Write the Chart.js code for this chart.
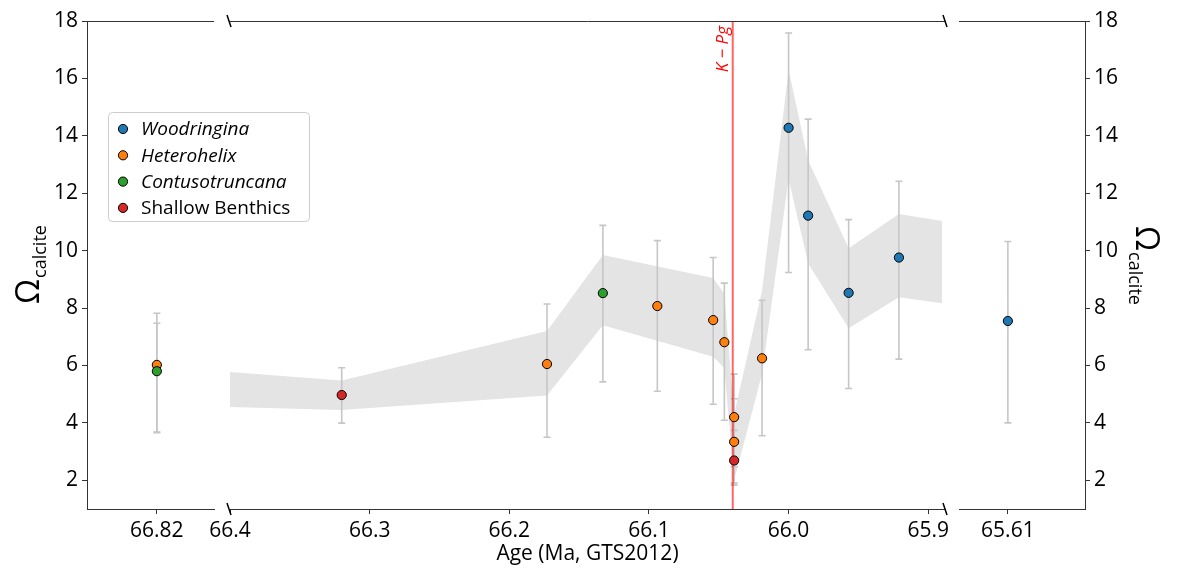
<!DOCTYPE html>
<html>
<head>
<meta charset="utf-8">
<script src="https://cdn.jsdelivr.net/npm/chart.js@4.4.1/dist/chart.umd.min.js"></script>
<style>
  html, body { margin: 0; padding: 0; background: #fff; }
</style>
</head>
<body>
<canvas id="chart" width="1177" height="571"></canvas>
<script>
// genera shown in the legend
const genusNames  = ['Woodringina', 'Heterohelix', 'Contusotruncana', 'Shallow Benthics'];
const genusColors = ['#1f77b4', '#ff7f0e', '#2ca02c', '#d62728'];

// age (Ma), omega calcite, error bar low / high
const woodAge   = [66.000, 65.986, 65.957, 65.921, 65.61];
const woodOmega = [14.28, 11.22, 8.53, 9.76, 7.55];
const woodLow   = [9.24, 6.55, 5.20, 6.22, 4.00];
const woodHigh  = [17.58, 14.58, 11.08, 12.42, 10.32];

const hetAge   = [66.82, 66.173, 66.094, 66.054, 66.046, 66.039, 66.039, 66.019];
const hetOmega = [6.02, 6.05, 8.07, 7.58, 6.81, 4.20, 3.34, 6.25];
const hetLow   = [3.68, 3.50, 5.10, 4.65, 4.09, 2.47, 1.83, 3.55];
const hetHigh  = [7.82, 8.14, 10.35, 9.76, 8.87, 5.70, 4.84, 8.27];

const contAge   = [66.82, 66.133];
const contOmega = [5.80, 8.52];
const contLow   = [3.66, 5.43];
const contHigh  = [7.47, 10.88];

const benthAge   = [66.32, 66.039];
const benthOmega = [4.97, 2.69];
const benthLow   = [3.99, 1.90];
const benthHigh  = [5.92, 3.74];

// shaded envelope (middle panel)
const bandAge   = [66.40, 66.32, 66.173, 66.133, 66.054, 66.046, 66.039, 66.019, 66.000, 65.986, 65.957, 65.921, 65.89];
const bandUpper = [5.77, 5.48, 7.20, 9.85, 9.05, 8.50, 4.30, 8.60, 16.30, 13.15, 10.08, 11.28, 11.03];
const bandLower = [4.55, 4.45, 4.95, 7.40, 6.30, 5.90, 2.00, 5.70, 12.50, 9.55, 7.30, 8.38, 8.17];

const kpgAge = 66.04;

// axis ticks
const omegaTicks = [2, 4, 6, 8, 10, 12, 14, 16, 18];
const leftTicks  = [66.82];
const midTicks   = [66.4, 66.3, 66.2, 66.1, 66.0, 65.9];
const rightTicks = [65.61];

// pixel extents of the three broken-axis panels
const panelPx = { xL: [87, 214], xM: [230, 945], xR: [959, 1085] };

const FONT = '"Open Sans", "Noto Sans", sans-serif';
const AXIS = '#333';

function panelOf(age) {
  if (age > 66.5) return 'xL';
  if (age < 65.8) return 'xR';
  return 'xM';
}

const groups = [
  [woodAge, woodOmega, woodLow, woodHigh],
  [hetAge, hetOmega, hetLow, hetHigh],
  [contAge, contOmega, contLow, contHigh],
  [benthAge, benthOmega, benthLow, benthHigh]
];

const datasets = [
  {
    type: 'line', xAxisID: 'xM', yAxisID: 'y', order: 10,
    data: bandAge.map((a, i) => ({x: a, y: bandUpper[i]})),
    borderColor: 'transparent', borderWidth: 0, pointRadius: 0, fill: false
  },
  {
    type: 'line', xAxisID: 'xM', yAxisID: 'y', order: 10,
    data: bandAge.map((a, i) => ({x: a, y: bandLower[i]})),
    borderColor: 'transparent', borderWidth: 0, pointRadius: 0,
    fill: '-1', backgroundColor: '#e4e4e4'
  }
];

groups.forEach(([age, om, lo, hi], g) => {
  ['xL', 'xM', 'xR'].forEach(axis => {
    const pts = [];
    age.forEach((a, i) => {
      if (panelOf(a) === axis) pts.push({x: a, y: om[i], lo: lo[i], hi: hi[i]});
    });
    if (!pts.length) return;
    datasets.push({
      label: genusNames[g], xAxisID: axis, yAxisID: 'y', order: 4 - g,
      data: pts, backgroundColor: genusColors[g], borderColor: '#000',
      borderWidth: 1, pointRadius: 4.6
    });
  });
});

function ageAxis(min, max, ticks, digits, extra) {
  return Object.assign({
    type: 'linear', position: 'bottom', stack: 'age', reverse: true,
    min: min, max: max,
    afterBuildTicks: s => { s.ticks = ticks.map(v => ({value: v})); },
    afterFit: s => { s.height = 62; },
    ticks: {
      color: '#000', font: {family: FONT, size: 21}, padding: 4,
      autoSkip: false, maxRotation: 0,
      callback: v => v.toFixed(digits)
    },
    grid: {drawOnChartArea: false, tickLength: 5, color: AXIS},
    border: {color: AXIS, width: 1}
  }, extra || {});
}

function omegaAxis(pos, width) {
  return {
    type: 'linear', position: pos, min: 1, max: 18,
    afterBuildTicks: s => { s.ticks = omegaTicks.map(v => ({value: v})); },
    afterFit: s => { s.width = width; },
    ticks: {color: '#000', font: {family: FONT, size: 21}, padding: 4},
    grid: {drawOnChartArea: false, tickLength: 5, color: AXIS},
    border: {color: AXIS, width: 1}
  };
}

function drawOmega(ctx, x, y, rot) {
  ctx.save();
  ctx.translate(x, y);
  ctx.rotate(rot);
  ctx.fillStyle = '#000';
  ctx.textAlign = 'left';
  ctx.textBaseline = 'alphabetic';
  ctx.font = '32px ' + FONT;
  const w1 = ctx.measureText('Ω').width;
  ctx.font = '18px ' + FONT;
  const w2 = ctx.measureText('calcite').width;
  const start = -(w1 + w2) / 2;
  ctx.font = '32px ' + FONT;
  ctx.fillText('Ω', start, 0);
  ctx.font = '18px ' + FONT;
  ctx.fillText('calcite', start + w1 + 1, 7);
  ctx.restore();
}

const decor = {
  id: 'decor',
  afterLayout(chart) {
    for (const id in panelPx) {
      const s = chart.scales[id];
      s.left = panelPx[id][0];
      s.right = panelPx[id][1];
      s.width = s.right - s.left;
      s.configure();
    }
  },
  beforeDatasetsDraw(chart) {
    const ctx = chart.ctx, y = chart.scales.y, area = chart.chartArea;
    ctx.save();
    // error bars
    ctx.strokeStyle = '#c6c6c6';
    ctx.lineWidth = 1.6;
    chart.data.datasets.forEach(ds => {
      if (!ds.label) return;
      const xs = chart.scales[ds.xAxisID];
      ds.data.forEach(p => {
        const px = xs.getPixelForValue(p.x);
        const yt = y.getPixelForValue(p.hi), yb = y.getPixelForValue(p.lo);
        ctx.beginPath();
        ctx.moveTo(px, yt); ctx.lineTo(px, yb);
        ctx.moveTo(px - 3.5, yt); ctx.lineTo(px + 3.5, yt);
        ctx.moveTo(px - 3.5, yb); ctx.lineTo(px + 3.5, yb);
        ctx.stroke();
      });
    });
    // K-Pg boundary
    const kx = chart.scales.xM.getPixelForValue(kpgAge);
    ctx.strokeStyle = 'rgba(255,0,0,0.6)';
    ctx.lineWidth = 2;
    ctx.beginPath();
    ctx.moveTo(kx, area.top); ctx.lineTo(kx, area.bottom);
    ctx.stroke();
    ctx.restore();
  },
  afterDraw(chart) {
    const ctx = chart.ctx, area = chart.chartArea;
    ctx.save();
    // top spines of each panel
    ctx.strokeStyle = AXIS;
    ctx.lineWidth = 1;
    for (const id in panelPx) {
      const s = chart.scales[id];
      ctx.beginPath();
      ctx.moveTo(s.left, area.top + 0.5);
      ctx.lineTo(s.right, area.top + 0.5);
      ctx.stroke();
    }
    // break marks
    const xm = chart.scales.xM;
    ctx.lineWidth = 1.5;
    ctx.strokeStyle = '#000';
    [xm.left - 1, xm.right].forEach(bx => {
      [area.top, area.bottom].forEach(by => {
        ctx.beginPath();
        ctx.moveTo(bx - 2, by - 6);
        ctx.lineTo(bx + 2, by + 6);
        ctx.stroke();
      });
    });
    // K-Pg label
    const kx = xm.getPixelForValue(kpgAge);
    ctx.save();
    ctx.translate(kx - 5, area.top + 5);
    ctx.rotate(-Math.PI / 2);
    ctx.fillStyle = '#ff0000';
    ctx.font = 'italic 17px ' + FONT;
    ctx.textAlign = 'right';
    ctx.textBaseline = 'alphabetic';
    ctx.fillText('K − Pg', 0, 0);
    ctx.restore();
    // y titles
    drawOmega(ctx, 39, (area.top + area.bottom) / 2, -Math.PI / 2);
    drawOmega(ctx, 1136, (area.top + area.bottom) / 2, Math.PI / 2);
    // legend
    const lx = 108, ly = 112, lw = 201, lh = 109;
    ctx.beginPath();
    ctx.roundRect(lx + 0.5, ly + 0.5, lw, lh, 4);
    ctx.fillStyle = 'rgba(255,255,255,0.85)';
    ctx.fill();
    ctx.strokeStyle = '#cccccc';
    ctx.lineWidth = 1;
    ctx.stroke();
    ctx.textBaseline = 'middle';
    ctx.textAlign = 'left';
    genusNames.forEach((name, i) => {
      const rowY = ly + 17 + i * 26.3;
      ctx.beginPath();
      ctx.arc(lx + 15, rowY, 4.6, 0, Math.PI * 2);
      ctx.fillStyle = genusColors[i];
      ctx.fill();
      ctx.strokeStyle = '#000';
      ctx.stroke();
      ctx.fillStyle = '#000';
      ctx.font = (i < 3 ? 'italic ' : '') + '19px ' + FONT;
      ctx.fillText(name, lx + 33, rowY + 1);
    });
    ctx.restore();
  }
};

new Chart(document.getElementById('chart'), {
  type: 'scatter',
  data: {datasets: datasets},
  options: {
    responsive: false,
    animation: false,
    events: [],
    layout: {padding: {top: 21, right: 0, bottom: 0, left: 0}},
    plugins: {
      legend: {display: false},
      tooltip: {enabled: false},
      filler: {drawTime: 'beforeDatasetsDraw'}
    },
    scales: {
      y: omegaAxis('left', 87),
      y2: omegaAxis('right', 92),
      xL: ageAxis(66.802, 66.842, leftTicks, 2, {stackWeight: 127}),
      xM: ageAxis(65.888, 66.4, midTicks, 1, {
        stackWeight: 715,
        title: {
          display: true, text: 'Age (Ma, GTS2012)', color: '#000',
          font: {family: FONT, size: 21}, padding: {top: 0, bottom: 4}
        }
      }),
      xR: ageAxis(65.5857, 65.6254, rightTicks, 2, {stackWeight: 126})
    }
  },
  plugins: [decor]
});
</script>
</body>
</html>
